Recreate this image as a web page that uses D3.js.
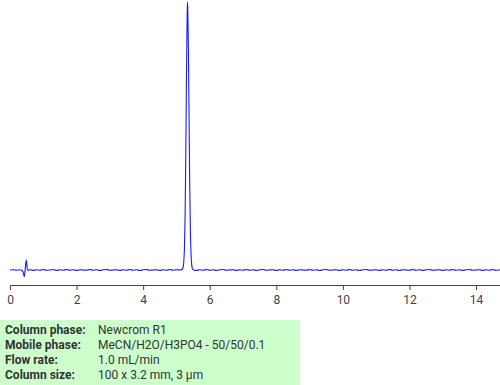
<!DOCTYPE html>
<html>
<head>
<meta charset="utf-8">
<script src="https://cdn.jsdelivr.net/npm/d3@7"></script>
<style>
  body { margin: 0; background: #fff; }
  svg { display: block; font-family: Roboto, "Liberation Sans", sans-serif; }
</style>
</head>
<body>
<svg id="chart" width="500" height="385"></svg>
<script>
// retention time (min) and detector signal
var times = [
  0.00, 0.10, 0.20, 0.30, 0.36, 0.40, 0.43, 0.46, 0.49, 0.52, 0.56, 0.60, 0.70, 0.80, 0.90,
  1.00, 1.10, 1.20, 1.30, 1.40, 1.50, 1.60, 1.70, 1.80, 1.90, 2.00, 2.10, 2.20, 2.30, 2.40,
  2.50, 2.60, 2.70, 2.80, 2.90, 3.00, 3.10, 3.20, 3.30, 3.40, 3.50, 3.60, 3.70, 3.80, 3.90,
  4.00, 4.10, 4.20, 4.30, 4.40, 4.50, 4.60, 4.70, 4.80, 4.90, 5.00, 5.10, 5.17, 5.20, 5.22,
  5.24, 5.26, 5.28, 5.30, 5.32, 5.33, 5.34, 5.36, 5.38, 5.40, 5.42, 5.44, 5.46, 5.48, 5.52,
  5.60, 5.70, 5.80, 5.90, 6.00, 6.10, 6.20, 6.30, 6.40, 6.50, 6.60, 6.70, 6.80, 6.90, 7.00,
  7.10, 7.20, 7.30, 7.40, 7.50, 7.60, 7.70, 7.80, 7.90, 8.00, 8.10, 8.20, 8.30, 8.40, 8.50,
  8.60, 8.70, 8.80, 8.90, 9.00, 9.10, 9.20, 9.30, 9.40, 9.50, 9.60, 9.70, 9.80, 9.90, 10.00,
  10.10, 10.20, 10.30, 10.40, 10.50, 10.60, 10.70, 10.80, 10.90, 11.00, 11.10, 11.20, 11.30, 11.40, 11.50,
  11.60, 11.70, 11.80, 11.90, 12.00, 12.10, 12.20, 12.30, 12.40, 12.50, 12.60, 12.70, 12.80, 12.90, 13.00,
  13.10, 13.20, 13.30, 13.40, 13.50, 13.60, 13.70, 13.80, 13.90, 14.00, 14.10, 14.20, 14.30, 14.40, 14.50,
  14.60, 14.72
];
var signal = [
  0, 1, -1, 1, -2, -10, -25, 8, 37, 3, -2, 2, -2, 1, -1,
  2, -1, 0, 2, -2, 1, -1, 2, -1, 1, -2, 1, 0, -1, 2,
  -1, 1, -2, 1, 2, -1, 0, 1, -2, 1, -1, 2, -1, 1, -2,
  1, 2, -1, 0, 1, -2, 1, -1, 2, -1, 1, 0, 2, 10, 30,
  80, 200, 420, 700, 930, 1000, 980, 820, 560, 310, 140, 55, 18, 5, 0,
  -2, 1, -1, 2, -1, 1, -2, 1, 2, -1, 0, 1, -2, 1, -1,
  2, -1, 1, -2, 1, 2, -1, 0, 1, -2, 1, -1, 2, -1, 1,
  -2, 1, 0, -1, 2, -1, 1, -2, 1, 2, -1, 0, 1, -2, 1,
  -1, 2, -1, 1, -2, 1, 2, -1, 0, 1, -2, 1, -1, 2, -1,
  1, -2, 1, 0, -1, 2, -1, 1, -2, 1, 2, -1, 0, 1, -2,
  1, -1, 2, -1, 1, -2, 1, 2, -1, 0, 1, -2, 1, -1, 2,
  -1, 1
];
var tickValues = [0, 2, 4, 6, 8, 10, 12, 14];

var infoLabels = ["Column phase:", "Mobile phase:", "Flow rate:", "Column size:"];
var infoValues = ["Newcrom R1", "MeCN/H2O/H3PO4 - 50/50/0.1", "1.0 mL/min", "100 x 3.2 mm, 3 \u00b5m"];

var svg = d3.select("#chart");

var x = d3.scaleLinear().domain([0, 14.72]).range([10, 500]);
var y = d3.scaleLinear().domain([0, 1000]).range([270, 2]);

var points = times.map(function (t, i) { return [t, signal[i]]; });

var line = d3.line()
  .x(function (d) { return x(d[0]); })
  .y(function (d) { return y(d[1]); })
  .curve(d3.curveMonotoneX);

svg.append("path")
  .datum(points)
  .attr("fill", "none")
  .attr("stroke", "#1a1aff")
  .attr("stroke-width", 1.1)
  .attr("d", line);

var axis = svg.append("g")
  .attr("transform", "translate(0,285)")
  .call(d3.axisBottom(x).tickValues(tickValues).tickSize(5).tickSizeOuter(0).tickFormat(d3.format("d")));

axis.select(".domain").attr("stroke", "#444");
axis.selectAll(".tick line").attr("stroke", "#444");
axis.selectAll(".tick text")
  .attr("fill", "#444")
  .attr("font-size", 12)
  .attr("dy", "0.9em")
  .attr("font-family", "Roboto, sans-serif");

// conditions box
svg.append("rect")
  .attr("x", 0)
  .attr("y", 320)
  .attr("width", 300)
  .attr("height", 65)
  .attr("fill", "#ccffcc");

var rows = svg.selectAll(".info")
  .data(infoLabels)
  .enter().append("g")
  .attr("class", "info")
  .attr("transform", function (d, i) { return "translate(0," + (334 + i * 15) + ")"; });

rows.append("text")
  .attr("x", 5)
  .attr("font-size", 12)
  .attr("font-weight", "bold")
  .attr("fill", "#333")
  .text(function (d) { return d; });

rows.append("text")
  .attr("x", 98)
  .attr("font-size", 12)
  .attr("fill", "#333")
  .text(function (d, i) { return infoValues[i]; });
</script>
</body>
</html>
